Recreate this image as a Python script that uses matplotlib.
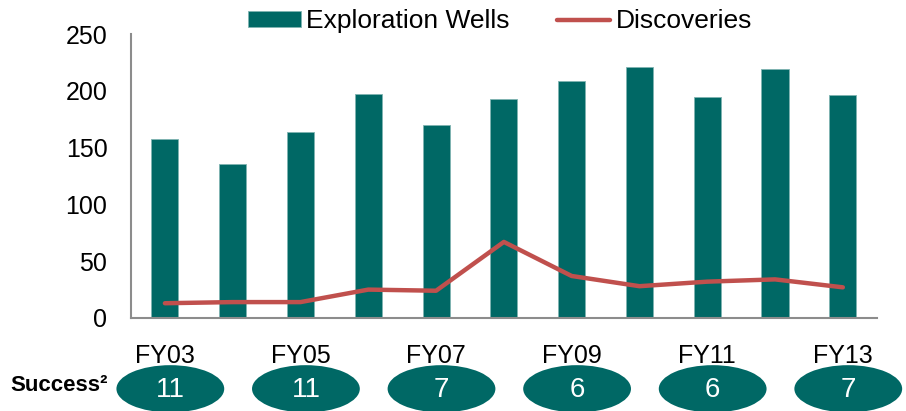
import matplotlib.pyplot as plt
import matplotlib.transforms as mtransforms
from matplotlib.patches import Ellipse
import numpy as np

plt.rcParams["font.family"] = ["Liberation Sans", "DejaVu Sans"]

years = ["FY03", "FY04", "FY05", "FY06", "FY07", "FY08", "FY09", "FY10", "FY11", "FY12", "FY13"]
wells = [158, 136, 164, 197, 170, 193, 209, 221, 195, 219, 196]
discoveries = [13, 14, 14, 25, 24, 67, 37, 28, 32, 34, 27]
success_years = ["FY03", "FY05", "FY07", "FY09", "FY11", "FY13"]
success = [11, 11, 7, 6, 6, 7]

TEAL = "#006865"
RED = "#C0504D"
GREY = "#8C8C8C"

fig = plt.figure(figsize=(9.06, 4.11), dpi=100)
ax = fig.add_axes([0.1446, 0.2263, 0.8231, 0.6907])

x = np.arange(len(years))
bars = ax.bar(x, wells, width=0.4, color=TEAL, edgecolor="#7fb3b1", linewidth=0.6,
              label="Exploration Wells", zorder=2)
line, = ax.plot(x, discoveries, color=RED, lw=3.2, solid_capstyle="round",
                label="Discoveries", zorder=3)

ax.set_xlim(-0.5, len(years) - 0.5)
ax.set_ylim(0, 250)
ax.set_yticks(range(0, 251, 50))
ax.tick_params(axis="y", length=0, pad=17, labelsize=18)
ax.tick_params(axis="x", length=0, pad=19, labelsize=18)
tick_idx = [years.index(y) for y in success_years]
ax.set_xticks(tick_idx)
ax.set_xticklabels(success_years)
for s in ["top", "right"]:
    ax.spines[s].set_visible(False)
for s in ["left", "bottom"]:
    ax.spines[s].set_color(GREY)
    ax.spines[s].set_linewidth(1.5)

ax.legend([bars, line], ["Exploration Wells", "Discoveries"],
          loc="lower center", bbox_to_anchor=(0.495, 0.965), ncol=2, frameon=False,
          fontsize=19, handlelength=2.0, handleheight=0.55, handletextpad=0.2,
          columnspacing=1.8, borderaxespad=0)

# success ovals below the axis
trans = mtransforms.blended_transform_factory(ax.transData, fig.transFigure)
for i, val in zip(tick_idx, success):
    xc = i + 0.08
    e = Ellipse((xc, 0.054), width=1.59, height=0.115, transform=trans,
                facecolor=TEAL, edgecolor="none", clip_on=False)
    fig.add_artist(e)
    t = fig.text(0, 0, str(val), transform=trans, color="white", fontsize=20,
                 ha="center", va="center")
    t.set_position((xc, 0.052))

fig.text(0.011, 0.063, "Success²", fontsize=16, fontweight="bold",
         ha="left", va="center")

fig.savefig("out.png", dpi=100)
